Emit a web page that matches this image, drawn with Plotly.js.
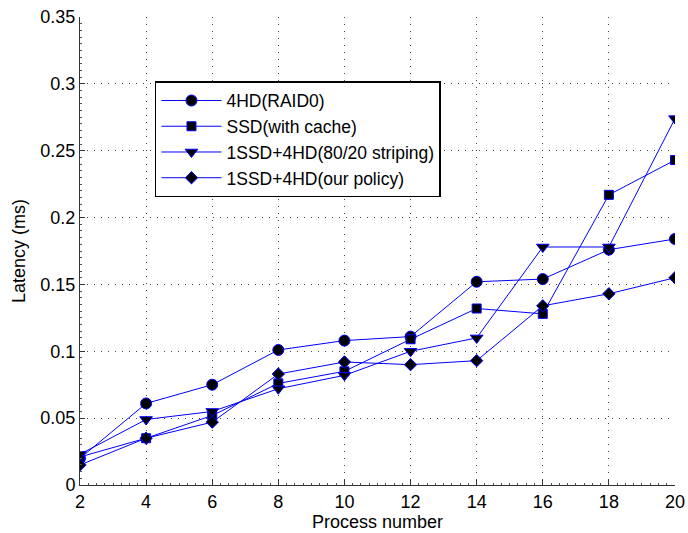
<!DOCTYPE html>
<html>
<head>
<meta charset="utf-8">
<script src="https://cdn.plot.ly/plotly-3.0.1.min.js"></script>
<style>html,body{margin:0;padding:0;background:#fff;}#chart{width:688px;height:533px;}</style>
</head>
<body>
<div id="chart"></div>
<script>
var processNumbers = [2, 4, 6, 8, 10, 12, 14, 16, 18, 20];
var raid0 = [0.020, 0.061, 0.075, 0.101, 0.108, 0.111, 0.152, 0.154, 0.176, 0.184];
var ssdCache = [0.021, 0.035, 0.052, 0.076, 0.085, 0.109, 0.132, 0.128, 0.217, 0.243];
var striping = [0.023, 0.049, 0.055, 0.072, 0.082, 0.100, 0.110, 0.178, 0.178, 0.274];
var ourPolicy = [0.015, 0.035, 0.047, 0.083, 0.092, 0.090, 0.093, 0.134, 0.143, 0.155];
var seriesNames = ['4HD(RAID0)', 'SSD(with cache)', '1SSD+4HD(80/20 striping)', '1SSD+4HD(our policy)'];
var yTickVals = [0, 0.05, 0.1, 0.15, 0.2, 0.25, 0.3, 0.35];
var yTickText = ['0', '0.05', '0.1', '0.15', '0.2', '0.25', '0.3', '0.35'];

var FONT = 'Liberation Sans, Arial, Helvetica, sans-serif';
var BLUE = 'rgb(0,0,255)';

function mk(y, name, symbol, size) {
  return {
    x: processNumbers, y: y, name: name, type: 'scatter', mode: 'lines+markers',
    line: {color: BLUE, width: 1},
    marker: {symbol: symbol, size: size, color: 'black', line: {color: BLUE, width: 1}}
  };
}
var data = [
  mk(raid0, seriesNames[0], 'circle', 11),
  mk(ssdCache, seriesNames[1], 'square', 9),
  mk(striping, seriesNames[2], 'triangle-down', 11),
  mk(ourPolicy, seriesNames[3], 'diamond', 9.5)
];

var layout = {
  width: 688, height: 533,
  margin: {l: 80, r: 13, t: 17, b: 48},
  paper_bgcolor: '#fff', plot_bgcolor: '#fff',
  font: {family: FONT, size: 18, color: '#000'},
  showlegend: true,
  legend: {
    x: 0.126, y: 0.863, xanchor: 'left', yanchor: 'top',
    bgcolor: '#fff', bordercolor: '#000', borderwidth: 1.5,
    font: {family: FONT, size: 17.5, color: '#000'},
    itemwidth: 60, tracegroupgap: 0
  },
  xaxis: {
    range: [2, 20], tickvals: processNumbers, ticks: 'inside', ticklen: 5, tickcolor: '#333',
    showline: true, linecolor: '#333', linewidth: 1, zeroline: false,
    showgrid: true, gridcolor: '#444', griddash: '1px,6px', gridwidth: 1,
    minor: {dtick: 0.25, ticks: 'inside', ticklen: 2, tickcolor: '#555', showgrid: false},
    title: {text: 'Process number', font: {family: FONT, size: 18}, standoff: 2},
    tickfont: {family: FONT, size: 18}
  },
  yaxis: {
    range: [0, 0.35], tickvals: yTickVals, ticktext: yTickText, ticks: 'inside', ticklen: 5, tickcolor: '#333',
    showline: true, linecolor: '#333', linewidth: 1, zeroline: false,
    showgrid: true, gridcolor: '#444', griddash: '1px,6px', gridwidth: 1,
    minor: {dtick: 0.005, ticks: 'inside', ticklen: 2, tickcolor: '#555', showgrid: false},
    title: {text: 'Latency (ms)', font: {family: FONT, size: 18}, standoff: 10},
    tickfont: {family: FONT, size: 18}
  }
};

Plotly.newPlot('chart', data, layout, {displayModeBar: false, staticPlot: true});
</script>
</body>
</html>
